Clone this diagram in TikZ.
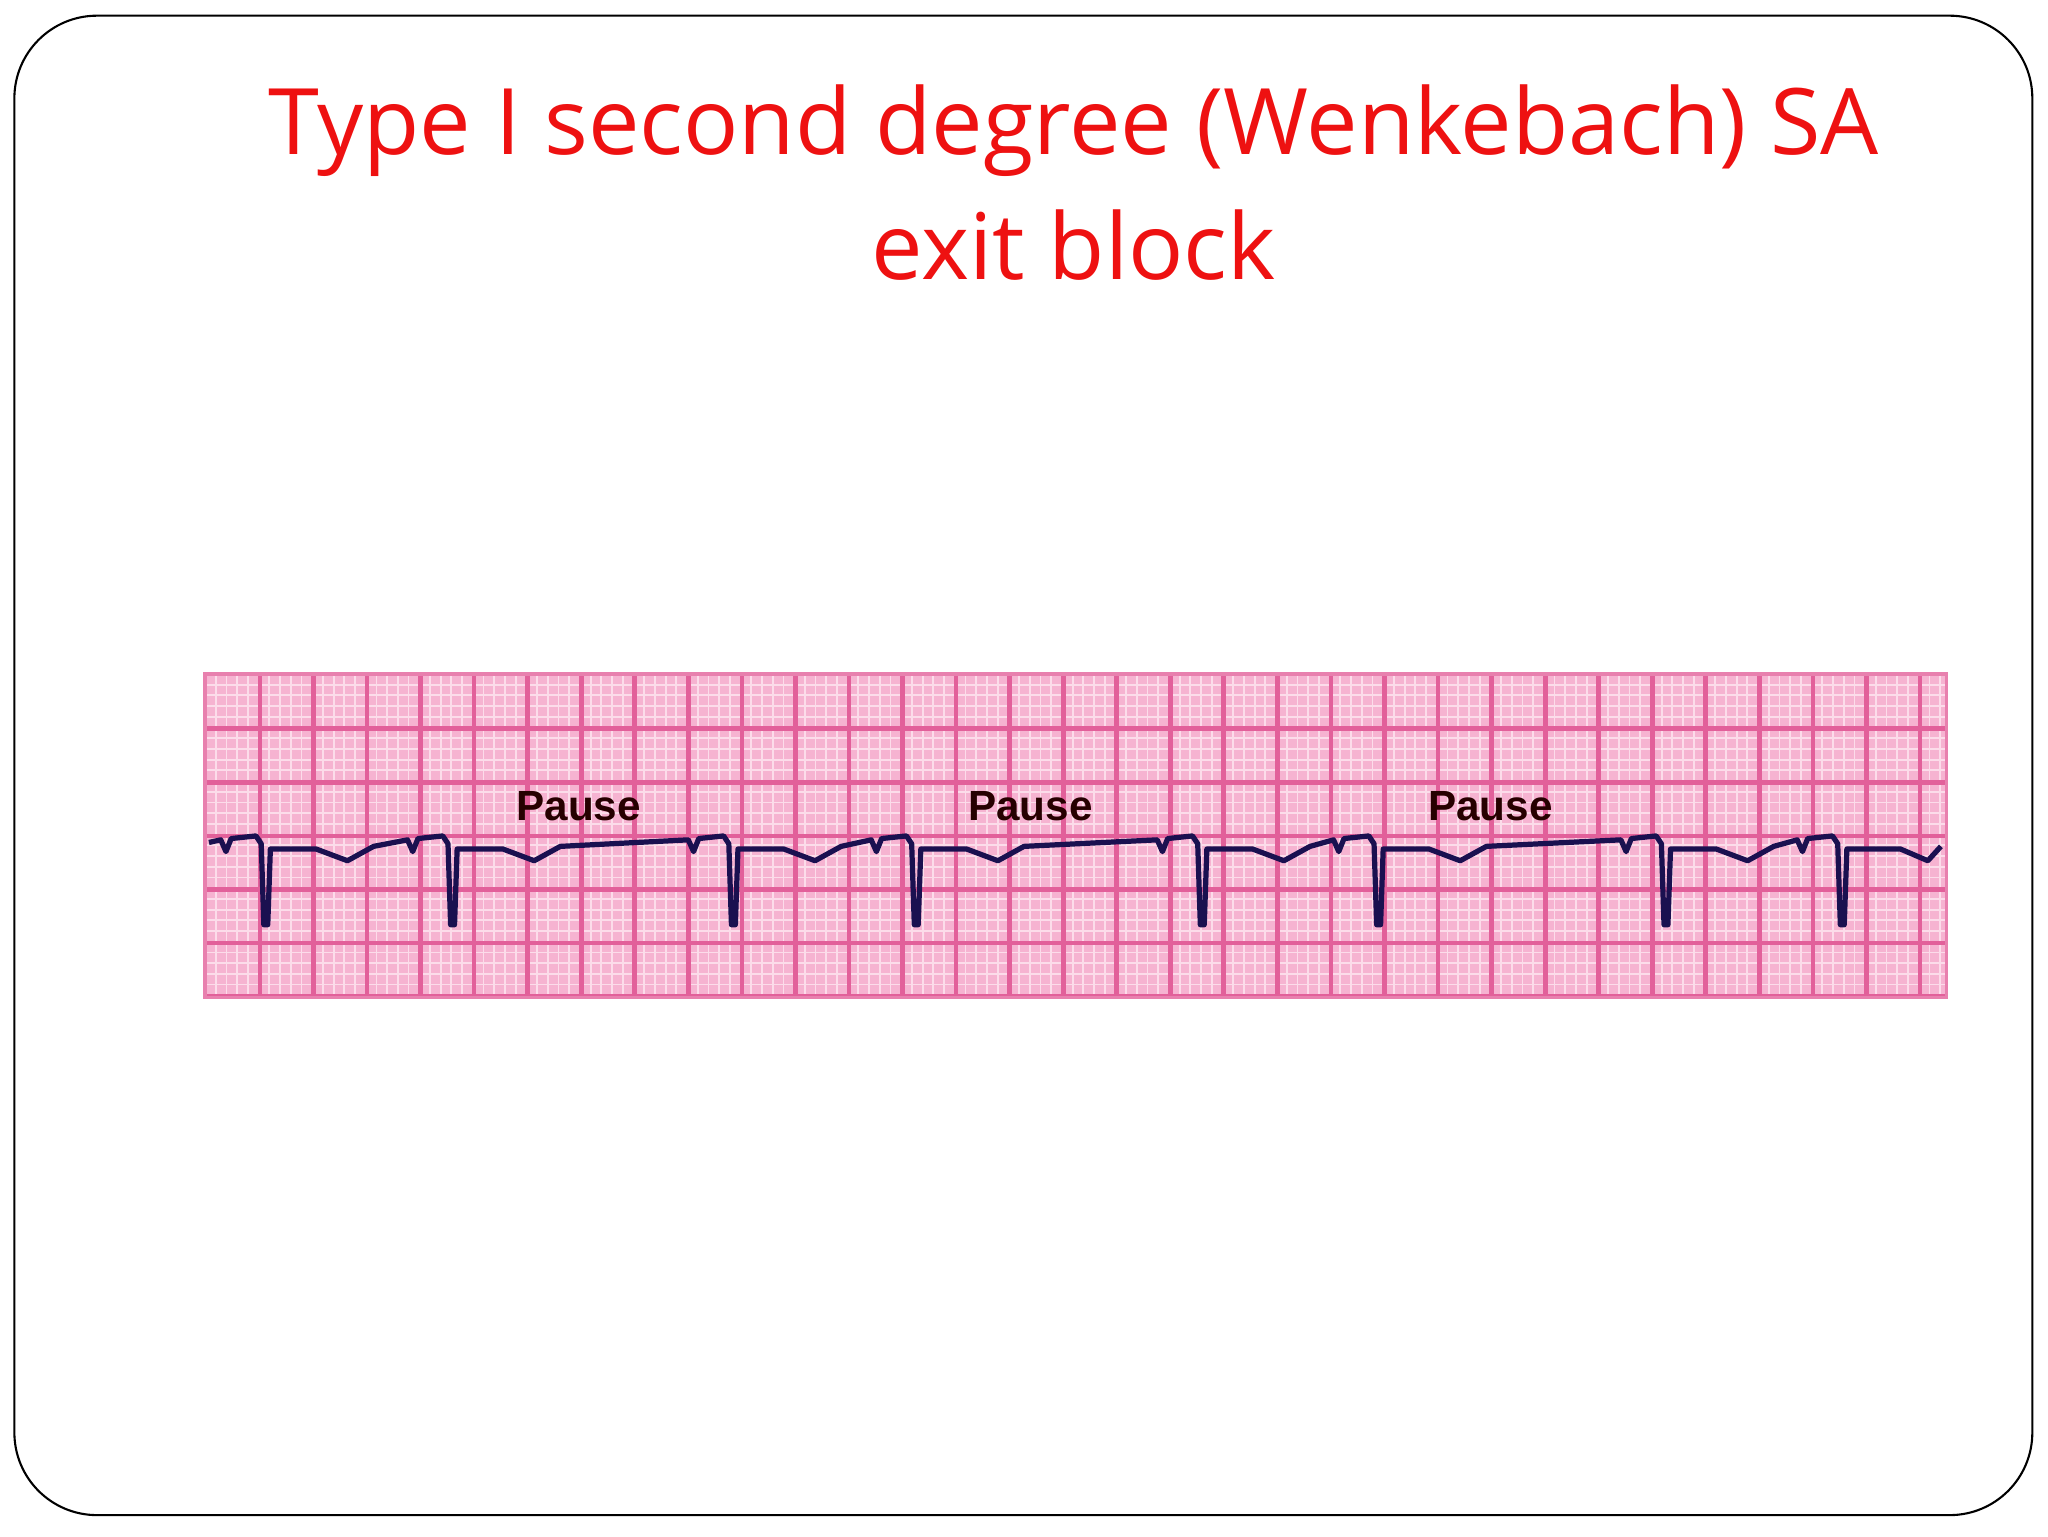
\documentclass[tikz,border=0pt]{standalone}
\usepackage{fontspec}
\setmainfont{Open Sans}
\newfontfamily\labfont{Liberation Sans}
\begin{document}
\begin{tikzpicture}[x=0.25mm,y=-0.25mm,
  pausel/.style={font=\labfont\bfseries\fontsize{23}{23}\selectfont, text=black!85!red},
  trace/.style={draw=ecg, line width=1mm, line join=round}]
\definecolor{ecg}{HTML}{1A1050}
\definecolor{titlered}{HTML}{EE1111}
\definecolor{paper}{HTML}{F6B3D1}
\definecolor{minor}{HTML}{FCDCEA}
\definecolor{major}{HTML}{E2609A}
\useasboundingbox (0,0) rectangle (1568,1176);
\draw[black, line width=0.4mm, rounded corners=45] (11,12) rectangle (1556,1160);
\node[text=titlered, font=\fontsize{50}{68}\selectfont, align=center] (title) at (822,140) {Type I second degree (Wenkebach) SA\\exit block};
% strip
\fill[paper] (157,516) rectangle (1490,764);
\foreach \x in {165.2,173.4,...,1488} \draw[minor, line width=0.35mm] (\x,516) -- (\x,764);
\foreach \y in {524.2,532.4,...,763} \draw[minor, line width=0.35mm] (157,\y) -- (1490,\y);
\foreach \x in {199,240,...,1488} \draw[major, line width=0.9mm] (\x,516) -- (\x,764);
\foreach \y in {558,599,...,763} \draw[major, line width=0.9mm] (157,\y) -- (1490,\y);
\draw[major!80, line width=0.6mm] (157,516) rectangle (1490,764);
\node[pausel] (p1) at (443,617) {Pause};
\node[pausel] (p2) at (789,617) {Pause};
\node[pausel] (p3) at (1141,617) {Pause};
\draw[trace] (160,645)
  \foreach \q in {204,347,562,702,921,1056,1276} {
    -- ({\q-35},643) -- ({\q-31},652) -- ({\q-27},642) -- ({\q-8},640) -- ({\q-4},646)
    -- ({\q-2},708) -- ({\q+1},708) -- ({\q+3},650) -- ({\q+38},650) -- ({\q+62},659) -- ({\q+82},648)
  }
  -- (1376,643) -- (1380,652) -- (1384,642) -- (1403,640) -- (1407,646)
  -- (1409,708) -- (1412,708) -- (1414,650) -- (1455,650) -- (1476,659) -- (1486,648);
\end{tikzpicture}
\end{document}
